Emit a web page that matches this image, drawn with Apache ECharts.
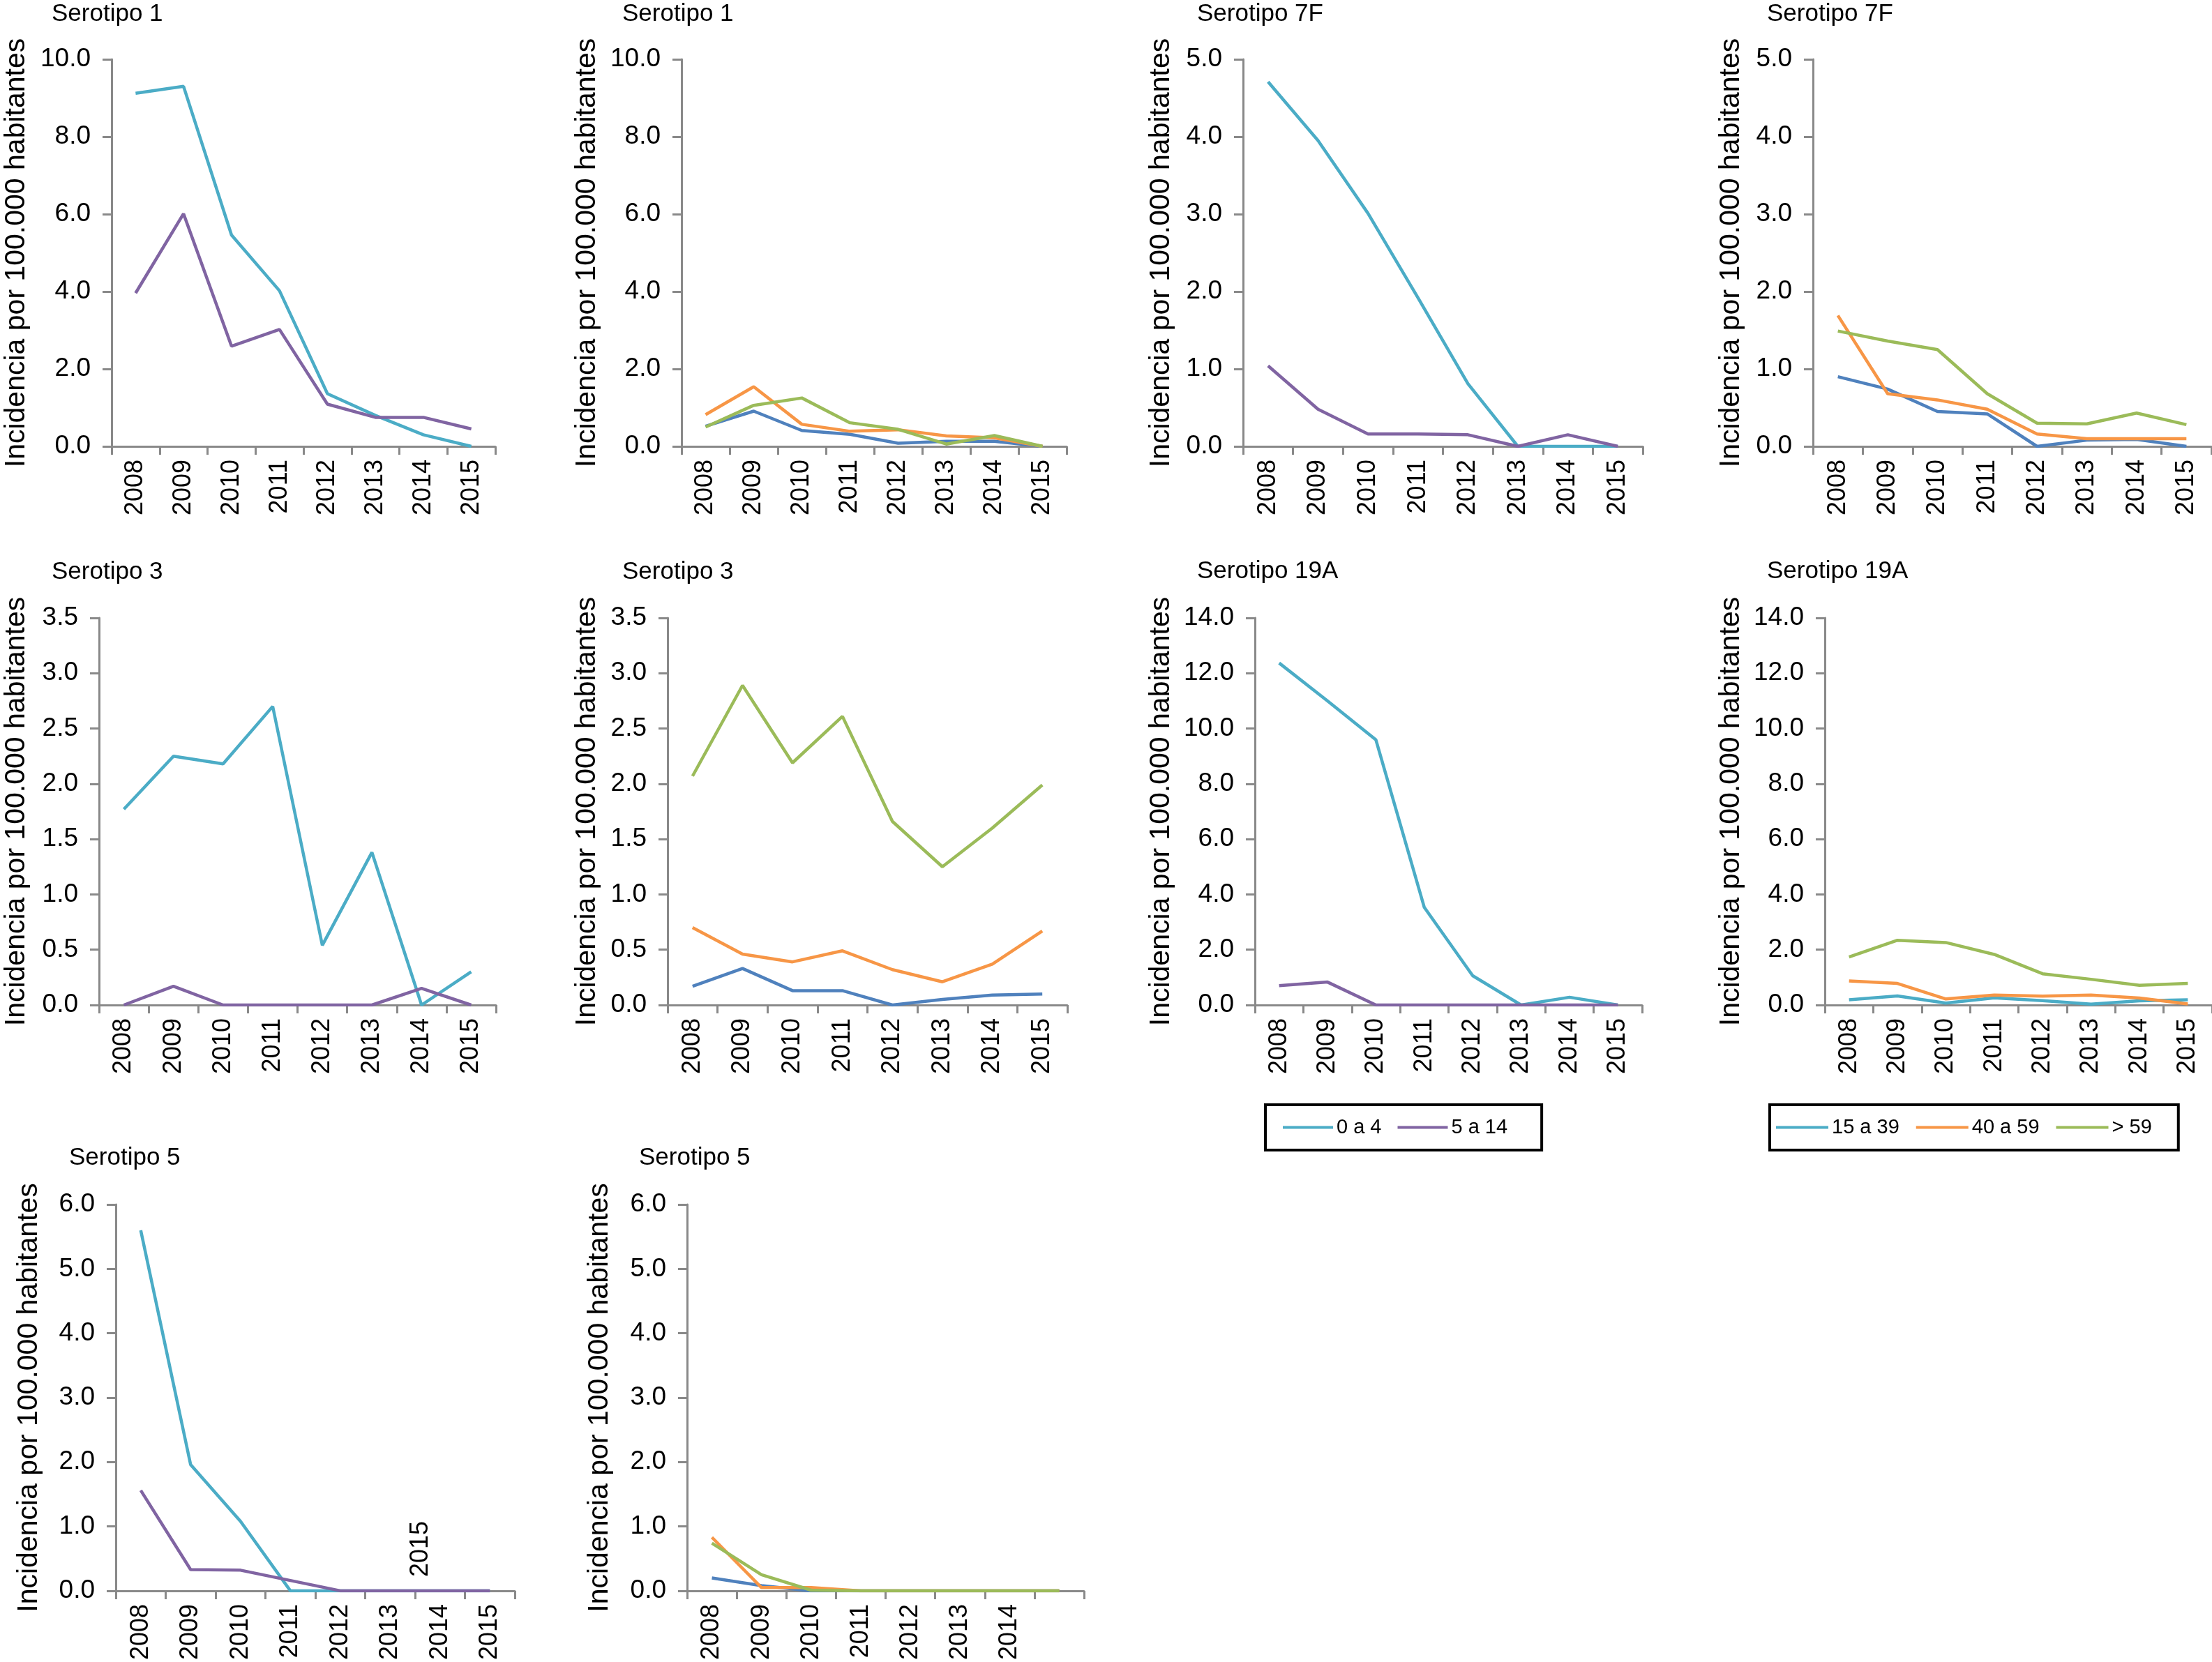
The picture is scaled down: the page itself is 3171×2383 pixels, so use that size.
<!DOCTYPE html>
<html>
<head>
<meta charset="utf-8">
<script src="https://cdn.jsdelivr.net/npm/echarts@6/dist/echarts.min.js"></script>
<style>
html,body{margin:0;padding:0;background:#fff;}
#c{width:3171px;height:2383px;}
</style>
</head>
<body>
<div id="c"></div>
<script>
// ---------- DATA ----------
const years = ['2008','2009','2010','2011','2012','2013','2014','2015'];
const yAxisTitle = 'Incidencia por 100.000 habitantes';
const groupsChild = ['0 a 4','5 a 14'];
const groupsAdult = ['15 a 39','40 a 59','> 59'];

// Serotipo 1
const s1_0a4   = [9.12, 9.30, 5.46, 4.02, 1.36, 0.80, 0.30, 0.00];
const s1_5a14  = [3.96, 6.01, 2.59, 3.02, 1.09, 0.75, 0.75, 0.45];
const s1_15a39 = [0.52, 0.91, 0.41, 0.31, 0.08, 0.13, 0.13, 0.00];
const s1_40a59 = [0.82, 1.54, 0.57, 0.39, 0.43, 0.27, 0.22, 0.00];
const s1_gt59  = [0.50, 1.06, 1.25, 0.61, 0.44, 0.06, 0.28, 0.00];
// Serotipo 7F
const s7f_0a4   = [4.71, 3.95, 3.01, 1.92, 0.81, 0.00, 0.00, 0.00];
const s7f_5a14  = [1.04, 0.48, 0.16, 0.16, 0.15, 0.00, 0.15, 0.00];
const s7f_15a39 = [0.90, 0.74, 0.45, 0.42, 0.00, 0.08, 0.09, 0.00];
const s7f_40a59 = [1.69, 0.68, 0.60, 0.48, 0.16, 0.10, 0.10, 0.10];
const s7f_gt59  = [1.49, 1.36, 1.25, 0.68, 0.30, 0.29, 0.43, 0.28];
// Serotipo 3
const s3_0a4   = [1.77, 2.25, 2.18, 2.70, 0.54, 1.38, 0.00, 0.30];
const s3_5a14  = [0.00, 0.17, 0.00, 0.00, 0.00, 0.00, 0.15, 0.00];
const s3_15a39 = [0.17, 0.33, 0.13, 0.13, 0.00, 0.05, 0.09, 0.10];
const s3_40a59 = [0.70, 0.46, 0.39, 0.49, 0.32, 0.21, 0.37, 0.67];
const s3_gt59  = [2.07, 2.89, 2.19, 2.61, 1.66, 1.25, 1.60, 1.99];
// Serotipo 19A
const s19a_0a4   = [12.37, 11.00, 9.59, 3.53, 1.06, 0.00, 0.28, 0.00];
const s19a_5a14  = [0.70, 0.83, 0.00, 0.00, 0.00, 0.00, 0.00, 0.00];
const s19a_15a39 = [0.19, 0.33, 0.07, 0.26, 0.16, 0.03, 0.15, 0.19];
const s19a_40a59 = [0.87, 0.78, 0.22, 0.36, 0.32, 0.36, 0.25, 0.04];
const s19a_gt59  = [1.74, 2.34, 2.26, 1.83, 1.13, 0.93, 0.71, 0.78];
// Serotipo 5
const s5_0a4   = [5.60, 1.96, 1.08, 0.00, 0.00, 0.00, 0.00, 0.00];
const s5_5a14  = [1.56, 0.33, 0.32, 0.16, 0.00, 0.00, 0.00, 0.00];
const s5_15a39 = [0.20, 0.08, 0.00, 0.00, 0.00, 0.00, 0.00, 0.00];
const s5_40a59 = [0.83, 0.05, 0.05, 0.00, 0.00, 0.00, 0.00, 0.00];
const s5_gt59  = [0.74, 0.25, 0.01, 0.00, 0.00, 0.00, 0.00, 0.00];

// ---------- STYLE / LAYOUT ----------
const C = {teal:'#4BACC6', purple:'#8064A2', blue:'#4F81BD', orange:'#F79646', green:'#9BBB59'};
const FONT = '"Liberation Sans", Arial, Helvetica, sans-serif';
const AXC = '#898989';

const panels = [
  {title:'Serotipo 1', tx:74, ty:21, left:160, top:85, width:550, height:555, max:10, interval:2, gap:116,
   series:[[groupsChild[0], s1_0a4, C.teal],[groupsChild[1], s1_5a14, C.purple]]},
  {title:'Serotipo 1', tx:892, ty:21, left:977, top:85, width:552, height:555, max:10, interval:2, gap:115,
   series:[[groupsAdult[0], s1_15a39, C.blue],[groupsAdult[1], s1_40a59, C.orange],[groupsAdult[2], s1_gt59, C.green]]},
  {title:'Serotipo 7F', tx:1716, ty:21, left:1782, top:85, width:573, height:555, max:5, interval:1, gap:97,
   series:[[groupsChild[0], s7f_0a4, C.teal],[groupsChild[1], s7f_5a14, C.purple]]},
  {title:'Serotipo 7F', tx:2533, ty:21, left:2599, top:85, width:571, height:555, max:5, interval:1, gap:97,
   series:[[groupsAdult[0], s7f_15a39, C.blue],[groupsAdult[1], s7f_40a59, C.orange],[groupsAdult[2], s7f_gt59, C.green]]},
  {title:'Serotipo 3', tx:74, ty:821, left:142, top:886, width:569, height:555, max:3.5, interval:0.5, gap:98,
   series:[[groupsChild[0], s3_0a4, C.teal],[groupsChild[1], s3_5a14, C.purple]]},
  {title:'Serotipo 3', tx:892, ty:821, left:957, top:886, width:573, height:555, max:3.5, interval:0.5, gap:95,
   series:[[groupsAdult[0], s3_15a39, C.blue],[groupsAdult[1], s3_40a59, C.orange],[groupsAdult[2], s3_gt59, C.green]]},
  {title:'Serotipo 19A', tx:1716, ty:820, left:1799, top:886, width:555, height:555, max:14, interval:2, gap:114,
   series:[[groupsChild[0], s19a_0a4, C.teal],[groupsChild[1], s19a_5a14, C.purple]]},
  {title:'Serotipo 19A', tx:2533, ty:820, left:2616, top:886, width:555, height:555, max:14, interval:2, gap:114,
   series:[[groupsAdult[0], s19a_15a39, C.teal],[groupsAdult[1], s19a_40a59, C.orange],[groupsAdult[2], s19a_gt59, C.green]]},
  {title:'Serotipo 5', tx:99, ty:1661, left:166, top:1727, width:572, height:554, max:6, interval:1, gap:104,
   series:[[groupsChild[0], s5_0a4, C.teal],[groupsChild[1], s5_5a14, C.purple]]},
  {title:'Serotipo 5', tx:916, ty:1661, left:985, top:1727, width:569, height:554, max:6, interval:1, gap:105, hideLast:true,
   series:[[groupsAdult[0], s5_15a39, C.blue],[groupsAdult[1], s5_40a59, C.orange],[groupsAdult[2], s5_gt59, C.green]]}
];

const chart = echarts.init(document.getElementById('c'), null, {renderer:'canvas'});

const series = [];
panels.forEach((p, i) => {
  p.series.forEach(s => {
    series.push({
      type:'line', name:s[0], xAxisIndex:i, yAxisIndex:i, data:s[1],
      symbol:'none', showSymbol:false,
      lineStyle:{width:4.5, color:s[2]}, itemStyle:{color:s[2]},
      animation:false, silent:true
    });
  });
});

const option = {
  backgroundColor:'#ffffff',
  animation:false,
  textStyle:{fontFamily:FONT},
  title: panels.map(p => ({
    text:p.title, left:p.tx, top:p.ty - 18, padding:0,
    textStyle:{fontSize:35, fontWeight:'normal', color:'#000', fontFamily:FONT}
  })),
  grid: panels.map(p => ({left:p.left, top:p.top, width:p.width, height:p.height, containLabel:false})),
  xAxis: panels.map((p, i) => ({
    type:'category', gridIndex:i, data:years, boundaryGap:true,
    axisLine:{show:true, lineStyle:{color:AXC, width:3}},
    axisTick:{show:true, length:12, lineStyle:{color:AXC, width:3}},
    axisLabel:{rotate:90, interval:0, fontSize:36, color:'#000', margin:19, fontFamily:FONT,
      formatter: v => (p.hideLast && v === years[years.length-1]) ? '' : v},
    splitLine:{show:false}
  })),
  yAxis: panels.map((p, i) => ({
    type:'value', gridIndex:i, min:0, max:p.max, interval:p.interval,
    name:yAxisTitle, nameLocation:'middle', nameGap:p.gap,
    nameTextStyle:{fontSize:41, color:'#000', fontFamily:FONT},
    axisLine:{show:true, lineStyle:{color:AXC, width:3}},
    axisTick:{show:true, length:13, lineStyle:{color:AXC, width:3}},
    axisLabel:{fontSize:37, color:'#000', margin:30, fontFamily:FONT, formatter: v => v.toFixed(1)},
    splitLine:{show:false}
  })),
  legend: [
    {data:[{name:groupsChild[0], icon:'rect', itemStyle:{color:C.teal}},
           {name:groupsChild[1], icon:'rect', itemStyle:{color:C.purple}}],
     left:1814, top:1584, orient:'horizontal', padding:[18,49,18,25],
     itemWidth:72, itemHeight:4, itemGap:23, borderColor:'#000', borderWidth:4,
     selectedMode:false, textStyle:{fontSize:29, color:'#000', fontFamily:FONT}},
    {data:[{name:groupsAdult[0], icon:'rect', itemStyle:{color:C.teal}},
           {name:groupsAdult[1], icon:'rect', itemStyle:{color:C.orange}},
           {name:groupsAdult[2], icon:'rect', itemStyle:{color:C.green}}],
     left:2537, top:1584, orient:'horizontal', padding:[18,38,18,9],
     itemWidth:75, itemHeight:4, itemGap:24, borderColor:'#000', borderWidth:4,
     selectedMode:false, textStyle:{fontSize:29, color:'#000', fontFamily:FONT}}
  ],
  graphic: [
    {type:'text', x:603, y:2221, rotation:Math.PI/2,
     style:{text:years[years.length-1], fontSize:36, fill:'#000', font:'36px ' + FONT, textAlign:'center', textVerticalAlign:'middle'}}
  ],
  series: series
};
chart.setOption(option);
</script>
</body>
</html>
